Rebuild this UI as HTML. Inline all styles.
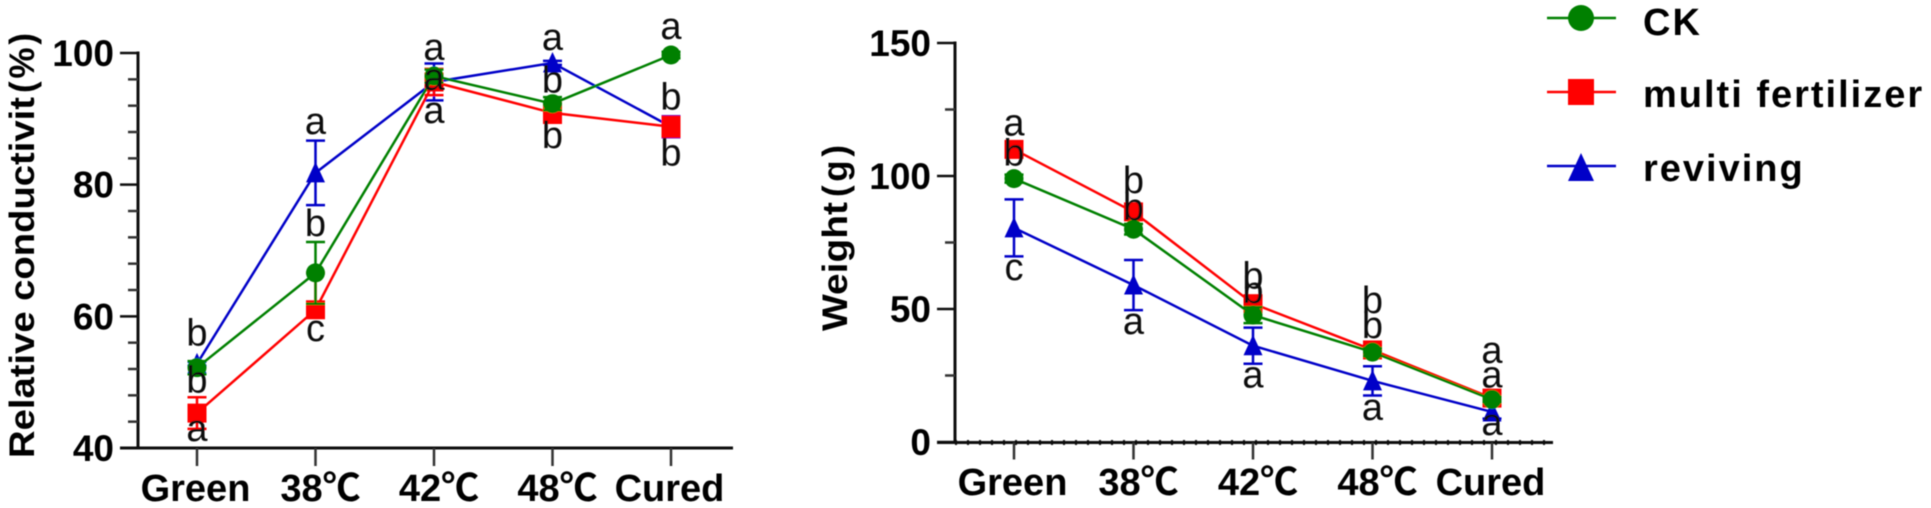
<!DOCTYPE html>
<html lang="en">
<head>
<meta charset="utf-8">
<title>Relative conductivity and weight during curing</title>
<style>
html,body{margin:0;padding:0;background:#fff;width:1931px;height:508px;overflow:hidden}
svg{display:block}
text{font-family:"Liberation Sans","Noto Sans CJK SC",sans-serif;fill:#000}
.tick{font-weight:700;font-size:37px}
.cat{font-weight:700;font-size:38px;text-anchor:middle}
.title{font-weight:700;font-size:35px}
.sig{font-size:38px;text-anchor:middle;fill:#111}
.leg{font-weight:700;font-size:38px;letter-spacing:2px}
</style>
</head>
<body>
<svg id="figure" xmlns="http://www.w3.org/2000/svg" width="1931" height="508" viewBox="0 0 1931 508">
<defs><filter id="soft" x="-2%" y="-2%" width="104%" height="104%"><feGaussianBlur stdDeviation="0.55"/></filter></defs>
<rect width="1931" height="508" fill="#fff"/>
<g id="root" filter="url(#soft)"></g>
</svg>
<script>
const categories = ['Green', '38℃', '42℃', '48℃', 'Cured'];

const leftTicks = [40, 60, 80, 100];
const leftCk = [52.2, 66.6, 96.5, 92.3, 99.7];
const leftRed = [45.3, 61, 95.6, 90.9, 88.8];
const leftBlue = [52.8, 81.8, 95.6, 98.5, 88.8];
const leftCkErr = [1, 4.7, 1, 1, 0.5];
const leftRedErr = [2.4, 5.6, 2, 1.5, 1.5];
const leftRedErrLow = [2.4, 0.5, 2, 1.5, 1.5];
const leftBlueErr = [0.3, 4.9, 2.8, 0.3, 1.6];

const rightTicks = [0, 50, 100, 150];
const rightCk = [99, 80, 47.7, 33.8, 16];
const rightRed = [110, 86.5, 52, 34.6, 16.5];
const rightBlue = [80.5, 59, 36.2, 23, 11.3];
const rightCkErr = [1.5, 2, 3, 1.5, 1];
const rightRedErr = [1.5, 2, 2, 1.5, 1.5];
const rightBlueErr = [10.7, 9.4, 6.8, 5.5, 2.5];

const legendLabels = ['CK', 'multi fertilizer', 'reviving'];

const GREEN = '#008000', RED = '#ff0000', BLUE = '#0000c8', INK = '#111';
const root = document.getElementById('root');
const NS = 'http://www.w3.org/2000/svg';

function make(tag, attrs, parent) {
  const el = document.createElementNS(NS, tag);
  for (const k in attrs) el.setAttribute(k, attrs[k]);
  parent.appendChild(el);
  return el;
}
function group(parent, name) {
  const g = make('g', {}, parent);
  
  
  return g;
}
function line(parent, name, x1, y1, x2, y2, stroke, w) {
  const el = make('line', {x1: x1, y1: y1, x2: x2, y2: y2, stroke: stroke, 'stroke-width': w}, parent);
  
  
  return el;
}
function label(parent, name, cls, x, y, str) {
  const el = make('text', {x: x, y: y, class: cls}, parent);
  el.textContent = str;
  
  
  return el;
}
function marker(parent, name, kind, x, y, color, s) {
  let el;
  if (kind === 'circle') {
    el = make('circle', {cx: x, cy: y, r: s, fill: color}, parent);
  } else if (kind === 'square') {
    el = make('rect', {x: x - s, y: y - s, width: 2 * s, height: 2 * s, fill: color}, parent);
  } else {
    const pts = (x - s) + ',' + (y + s) + ' ' + (x + s) + ',' + (y + s) + ' ' + x + ',' + (y - s * 1.15);
    el = make('polygon', {points: pts, fill: color}, parent);
  }
  
  
  return el;
}

function makeChart(cfg) {
  const xOf = i => cfg.x0 + i * cfg.xStep;
  const yOf = v => cfg.yBase - (v - cfg.vMin) * cfg.yScale;
  const g = group(root, cfg.name);
  const yMax = cfg.ticks[cfg.ticks.length - 1];

  const axes = group(g, cfg.name + '-axes');
  line(axes, 'y-axis-line', cfg.axisX, yOf(yMax) - 1.5, cfg.axisX, yOf(cfg.vMin) + 1.5, INK, 3);
  line(axes, 'x-axis-line', cfg.axisX - 18, cfg.xAxisY, cfg.xEnd, cfg.xAxisY, INK, 3);
  if (cfg.dotted) {
    const dots = line(axes, 'zero-baseline-dots', cfg.axisX, cfg.xAxisY, cfg.xEnd, cfg.xAxisY, INK, 5);
    dots.setAttribute('stroke-dasharray', '2 10');
  }
  cfg.ticks.forEach(t => {
    line(axes, 'y-tick-' + t, cfg.axisX - 18, yOf(t), cfg.axisX, yOf(t), INK, 2.5);
    const tl = label(axes, 'y-tick-label-' + t, 'tick', cfg.axisX - 24, yOf(t) + 13, String(t));
    tl.setAttribute('text-anchor', 'end');
  });
  for (let v = cfg.vMin; v < yMax; v += cfg.minorStep) {
    if (!cfg.ticks.includes(v)) line(axes, 'y-minor-tick-' + v, cfg.axisX - 10, yOf(v), cfg.axisX, yOf(v), '#333', 2.5);
  }
  categories.forEach((c, i) => {
    line(axes, 'x-tick-' + c, xOf(i), cfg.xAxisY, xOf(i), cfg.xAxisY + cfg.tickLen, '#333', 2.5);
    const shift = c.includes('℃') ? 5 : -1.5;
    label(axes, 'x-tick-label-' + c, 'cat', xOf(i) + shift, cfg.catY, c);
  });

  cfg.series.forEach(s => {
    const sg = group(g, cfg.name + '-series-' + s.name);
    const pts = s.values.map((v, i) => xOf(i) + ',' + yOf(v)).join(' ');
    const path = make('polyline', {points: pts, fill: 'none', stroke: s.color, 'stroke-width': 2.5}, sg);
    
    
    s.values.forEach((v, i) => {
      const x = xOf(i);
      const hi = yOf(v + s.err[i]);
      const lo = yOf(v - (s.errLow || s.err)[i]);
      line(sg, s.name + '-error-stem', x, hi, x, lo, s.color, 2.5);
      line(sg, s.name + '-error-cap-top', x - 9.5, hi, x + 9.5, hi, s.color, 2.5);
      line(sg, s.name + '-error-cap-bottom', x - 9.5, lo, x + 9.5, lo, s.color, 2.5);
      marker(sg, s.name + '-point-' + categories[i], s.kind, x, yOf(v), s.color, s.kind === 'circle' ? 9.5 : 9.5);
    });
  });
  return {xOf: xOf, yOf: yOf, g: group(g, cfg.name + '-significance-letters')};
}

const left = makeChart({
  name: 'conductivity-chart', x0: 197, xStep: 118.5, yBase: 448, vMin: 40, yScale: 6.583,
  axisX: 138, xAxisY: 448, xEnd: 733, tickLen: 18, catY: 501, ticks: leftTicks, minorStep: 4, dotted: false,
  series: [
    {name: 'reviving', kind: 'triangle', color: BLUE, values: leftBlue, err: leftBlueErr},
    {name: 'multi-fertilizer', kind: 'square', color: RED, values: leftRed, err: leftRedErr, errLow: leftRedErrLow},
    {name: 'ck', kind: 'circle', color: GREEN, values: leftCk, err: leftCkErr}
  ]
});
const right = makeChart({
  name: 'weight-chart', x0: 1014, xStep: 119.5, yBase: 442, vMin: 0, yScale: 2.66,
  axisX: 955, xAxisY: 442.5, xEnd: 1553, tickLen: 17, catY: 495, ticks: rightTicks, minorStep: 25, dotted: true,
  series: [
    {name: 'reviving', kind: 'triangle', color: BLUE, values: rightBlue, err: rightBlueErr},
    {name: 'multi-fertilizer', kind: 'square', color: RED, values: rightRed, err: rightRedErr},
    {name: 'ck', kind: 'circle', color: GREEN, values: rightCk, err: rightCkErr}
  ]
});

function sig(chart, values, i, letter, dy) {
  label(chart.g, 'significance-letter-' + letter, 'sig', chart.xOf(i), chart.yOf(values[i]) + dy, letter);
}
sig(left, leftBlue, 0, 'b', -18); sig(left, leftCk, 0, 'b', 25); sig(left, leftRed, 0, 'a', 28);
sig(left, leftBlue, 1, 'a', -39); sig(left, leftCk, 1, 'b', -37); sig(left, leftRed, 1, 'c', 31);
sig(left, leftCk, 2, 'a', -16); sig(left, leftRed, 2, 'a', 8); sig(left, leftBlue, 2, 'a', 41);
sig(left, leftBlue, 3, 'a', -13); sig(left, leftCk, 3, 'b', -11); sig(left, leftRed, 3, 'b', 35);
sig(left, leftCk, 4, 'a', -16); sig(left, leftRed, 4, 'b', -17); sig(left, leftBlue, 4, 'b', 39);

sig(right, rightRed, 0, 'a', -14); sig(right, rightCk, 0, 'b', -13); sig(right, rightBlue, 0, 'c', 52);
sig(right, rightRed, 1, 'b', -19); sig(right, rightCk, 1, 'b', -9); sig(right, rightBlue, 1, 'a', 49);
sig(right, rightRed, 2, 'b', -15); sig(right, rightCk, 2, 'b', -12); sig(right, rightBlue, 2, 'a', 42);
sig(right, rightRed, 3, 'b', -37); sig(right, rightCk, 3, 'b', -14); sig(right, rightBlue, 3, 'a', 39);
sig(right, rightRed, 4, 'a', -35); sig(right, rightCk, 4, 'a', -12); sig(right, rightBlue, 4, 'a', 23);

const leftTitle = label(root, 'y-axis-title-conductivity', 'title', 0, 0, 'Relative conductivit');
leftTitle.setAttribute('transform', 'translate(34,458) rotate(-90)');
leftTitle.setAttribute('textLength', '361');
leftTitle.setAttribute('lengthAdjust', 'spacingAndGlyphs');
const leftUnit = label(root, 'y-axis-unit-conductivity', 'title', 0, 0, '(%)');
leftUnit.setAttribute('transform', 'translate(34,93) rotate(-90)');
leftUnit.setAttribute('textLength', '60');
leftUnit.setAttribute('lengthAdjust', 'spacing');
const rightTitle = label(root, 'y-axis-title-weight', 'title', 0, 0, 'Weight');
rightTitle.setAttribute('transform', 'translate(847,331) rotate(-90)');
rightTitle.setAttribute('textLength', '129');
rightTitle.setAttribute('lengthAdjust', 'spacingAndGlyphs');
const rightUnit = label(root, 'y-axis-unit-weight', 'title', 0, 0, '(g)');
rightUnit.setAttribute('transform', 'translate(847,197) rotate(-90)');
rightUnit.setAttribute('textLength', '52');
rightUnit.setAttribute('lengthAdjust', 'spacing');

const legend = group(root, 'legend');
const legendKinds = ['circle', 'square', 'triangle'];
const legendColors = [GREEN, RED, BLUE];
legendLabels.forEach((t, i) => {
  const y = 18 + i * 74;
  const entry = group(legend, 'legend-entry-' + legendKinds[i]);
  line(entry, 'legend-line', 1547, y, 1616, y, legendColors[i], 2.5);
  marker(entry, 'legend-marker', legendKinds[i], 1581, y + (i === 2 ? 2 : 0), legendColors[i], 13);
  label(entry, 'legend-label', 'leg', 1643, y + (i === 0 ? 17 : 15), t);
});
</script>
</body>
</html>
